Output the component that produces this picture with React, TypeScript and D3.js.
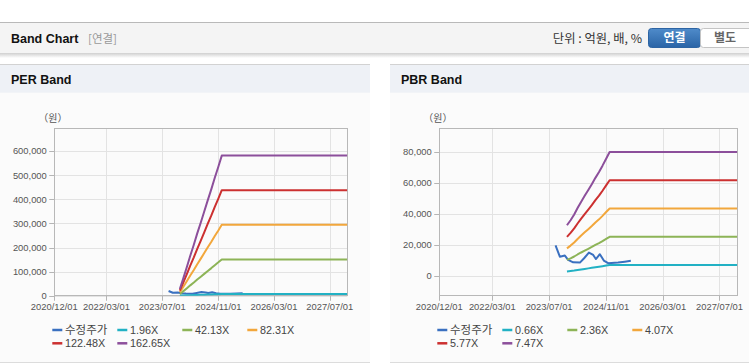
import React from "react";
import * as d3 from "d3";

// categories / labels
const xTickLabels = ["2020/12/01", "2022/03/01", "2023/07/01", "2024/11/01", "2026/03/01", "2027/07/01"];
const bandDates = [
  "2023-12-01", "2024-01-01", "2024-02-01", "2024-03-01", "2024-04-01", "2024-05-01", "2024-06-01",
  "2024-07-01", "2024-08-01", "2024-09-01", "2024-10-01", "2024-11-01", "2024-12-01", "2027-12-01",
];
const priceDates = [
  "2023-08-25", "2023-10-01", "2023-11-13", "2023-12-11", "2024-01-23", "2024-03-21", "2024-04-26", "2024-06-06",
  "2024-07-13", "2024-08-05", "2024-09-08", "2024-10-12", "2024-11-18", "2025-02-12", "2025-04-10", "2025-06-01",
];

// 수정주가 (same in both charts)
const priceValues = [19700, 12400, 13100, 10300, 8800, 8600, 11400, 15000, 13500, 10900, 14000, 9900, 8200, 8600, 9200, 9800];

// PER band
const perLabels = ["1.96X", "42.13X", "82.31X", "122.48X", "162.65X"];
const per196 = [330, 880, 1450, 2000, 2550, 3120, 3670, 4210, 4780, 5330, 5900, 6450, 7010, 7010];
const per4213 = [7160, 18960, 31180, 42970, 54770, 66990, 78780, 90580, 102800, 114600, 126800, 138600, 150650, 150650];
const per8231 = [13990, 37040, 60910, 83960, 107000, 130870, 153920, 176970, 200840, 223880, 247750, 270800, 294340, 294340];
const per12248 = [20820, 55120, 90640, 124930, 159220, 194740, 229040, 263330, 298850, 333150, 368660, 402960, 438000, 438000];
const per16265 = [27650, 73190, 120360, 165900, 211450, 258610, 304160, 349700, 396870, 442410, 489580, 535120, 581640, 581640];
const perTicks = [0, 100000, 200000, 300000, 400000, 500000, 600000];

// PBR band
const pbrLabels = ["0.66X", "2.36X", "4.07X", "5.77X", "7.47X"];
const pbr066 = [2880, 3170, 3500, 3860, 4220, 4550, 4880, 5210, 5580, 5910, 6270, 6670, 7040, 7040];
const pbr236 = [10300, 11330, 12510, 13810, 15100, 16280, 17460, 18640, 19940, 21120, 22420, 23840, 25180, 25180];
const pbr407 = [17760, 19540, 21570, 23810, 26050, 28080, 30120, 32150, 34390, 36430, 38670, 41110, 43430, 43430];
const pbr577 = [25180, 27700, 30580, 33750, 36930, 39810, 42700, 45580, 48760, 51640, 54820, 58280, 61570, 61570];
const pbr747 = [32600, 35860, 39590, 43700, 47810, 51540, 55280, 59010, 63120, 66860, 70970, 75450, 79700, 79700];
const pbrTicks = [0, 20000, 40000, 60000, 80000];

const colors = ["#3a70c0", "#22b1c4", "#8db457", "#f2a73c", "#cc3030", "#8c4f9b"];
const parse = d3.timeParse("%Y-%m-%d");
const parseTick = d3.timeParse("%Y/%m/%d");
const latin = "'Liberation Sans', Arial, sans-serif";
const kr = "'Noto Sans CJK KR', sans-serif";

type PanelProps = {
  id: string;
  px0: number;
  px1: number;
  title: string;
  plotX0: number;
  plotX1: number;
  yDomain: [number, number];
  yTicks: number[];
  bands: number[][];
  labels: string[];
};

const Panel = (props: PanelProps) => {
  const top = 128.3;
  const bottom = 295.7;
  const x = d3.scaleTime()
    .domain([parse("2020-12-01")!, parse("2027-12-01")!])
    .range([props.plotX0, props.plotX1]);
  const y = d3.scaleLinear().domain(props.yDomain).range([bottom, top]);
  const fmt = d3.format(",");
  const line = d3.line<[Date, number]>()
    .x(d => x(d[0]))
    .y(d => y(d[1]));

  const pricePts: [Date, number][] = priceDates.map((d, i) => [parse(d)!, priceValues[i]]);
  const bandPts = props.bands.map(b => b.map((v, i) => [parse(bandDates[i])!, v] as [Date, number]));
  const legendItems = ["수정주가", ...props.labels];

  return (
    <g>
      <rect x={props.px0} y={64} width={props.px1 - props.px0} height={298} fill="#fbfbfb" />
      <rect x={props.px0} y={64} width={props.px1 - props.px0} height={28.7} fill="#eef1f6" />
      <line x1={props.px0} x2={props.px1} y1={64.5} y2={64.5} stroke="#d2d2d2" />
      <line x1={props.px0} x2={props.px1} y1={362.5} y2={362.5} stroke="#dcdcdc" />
      <text x={props.px0 + 11} y={84} fontFamily={latin} fontWeight="bold" fontSize={12.5} fill="#111">{props.title}</text>

      <clipPath id={props.id}>
        <rect x={props.plotX0} y={top} width={props.plotX1 - props.plotX0} height={bottom - top} />
      </clipPath>
      {/* grid */}
      {xTickLabels.map(t => {
        const xx = Math.round(x(parseTick(t)!)) + 0.5;
        return <line key={t} x1={xx} x2={xx} y1={top} y2={bottom + 5} stroke="#e3e3e3" />;
      })}
      {props.yTicks.map(t => {
        const yy = Math.round(y(t)) + 0.5;
        return <line key={t} x1={props.plotX0 - 5} x2={props.plotX1} y1={yy} y2={yy} stroke="#e3e3e3" />;
      })}
      {xTickLabels.map(t => {
        const xx = Math.round(x(parseTick(t)!)) + 0.5;
        return <line key={"k" + t} x1={xx} x2={xx} y1={bottom} y2={bottom + 5} stroke="#b5b5b5" />;
      })}
      {props.yTicks.map(t => {
        const yy = Math.round(y(t)) + 0.5;
        return <line key={"k" + t} x1={props.plotX0 - 5} x2={props.plotX0} y1={yy} y2={yy} stroke="#b5b5b5" />;
      })}
      <rect x={Math.round(props.plotX0) + 0.5} y={Math.round(top) + 0.5} width={Math.round(props.plotX1 - props.plotX0)} height={Math.round(bottom - top)}
        fill="none" stroke="#b8b8b8" />

      {/* labels */}
      {xTickLabels.map(t => (
        <text key={"l" + t} x={x(parseTick(t)!)} y={310} textAnchor="middle" fontFamily={latin} fontSize={9.4} fill="#555">{t}</text>
      ))}
      {props.yTicks.map(t => (
        <text key={"l" + t} x={props.plotX0 - 7.5} y={y(t) + 3.3} textAnchor="end" fontFamily={latin} fontSize={9.4} fill="#555">{fmt(t)}</text>
      ))}
      <text x={props.plotX0 - 16} y={121.5} fontFamily={kr} fontSize={10} fill="#555">（원）</text>

      {/* series */}
      <g clipPath={`url(#${props.id})`} fill="none" strokeWidth={2} strokeLinejoin="round">
        <path d={line(pricePts)!} stroke={colors[0]} />
        {bandPts.map((pts, i) => (
          <path key={i} d={line(pts)!} stroke={colors[i + 1]} />
        ))}
      </g>

      {/* legend */}
      {legendItems.map((lab, i) => {
        const col = i % 4;
        const row = Math.floor(i / 4);
        const lx = props.plotX0 - 2 + col * 65;
        const ly = 330 + row * 13.3;
        return (
          <g key={lab}>
            <line x1={lx} x2={lx + 10} y1={ly} y2={ly} stroke={colors[i]} strokeWidth={2.5} />
            <text x={lx + 12.7} y={ly + 4} fontFamily={i === 0 ? kr : latin} fontSize={i === 0 ? 11.5 : 10.8} fill="#444">{lab}</text>
          </g>
        );
      })}
    </g>
  );
};

const App = () => {
  return (
    <svg width={749} height={364} style={{ position: "absolute", left: 0, top: 0, background: "#fff" }}>
      <defs>
        <linearGradient id="shadow" x1="0" y1="0" x2="0" y2="1">
          <stop offset="0" stopColor="#cfcfcf" />
          <stop offset="1" stopColor="#ffffff" />
        </linearGradient>
        <linearGradient id="btn" x1="0" y1="0" x2="0" y2="1">
          <stop offset="0" stopColor="#4f8bca" />
          <stop offset="1" stopColor="#2a64a6" />
        </linearGradient>
      </defs>
      <rect x={0} y={0} width={749} height={364} fill="#fff" />
      {/* header bar */}
      <rect x={0} y={22} width={749} height={31} fill="#f4f4f4" />
      <line x1={0} x2={749} y1={22.5} y2={22.5} stroke="#b9b9b9" />
      <rect x={0} y={53} width={749} height={5} fill="url(#shadow)" />
      <text x={11} y={43} fontFamily={latin} fontWeight="bold" fontSize={12.5} fill="#111">Band Chart</text>
      <text x={88} y={43} fontFamily={kr} fontSize={11.5} fill="#999">[연결]</text>
      <text x={642} y={42.5} textAnchor="end" fontFamily={kr} fontSize={12.3} fill="#333">단위 : 억원, 배, %</text>
      <rect x={648.5} y={28.5} width={52} height={19} rx={3} fill="url(#btn)" stroke="#2d64a3" />
      <rect x={700.5} y={28.5} width={52} height={19} rx={3} fill="#fff" stroke="#c4c4c4" />
      <text x={674.5} y={42.3} textAnchor="middle" fontFamily={kr} fontWeight="bold" fontSize={12} fill="#fff">연결</text>
      <text x={725} y={42.3} textAnchor="middle" fontFamily={kr} fontWeight="bold" fontSize={12} fill="#666">별도</text>

      <Panel id="perClip" px0={0} px1={370} title="PER Band" plotX0={54.3} plotX1={347.3}
        yDomain={[0, 695000]} yTicks={perTicks}
        bands={[per196, per4213, per8231, per12248, per16265]} labels={perLabels} />
      <Panel id="pbrClip" px0={390} px1={749} title="PBR Band" plotX0={439.3} plotX1={737.3}
        yDomain={[-12700, 95000]} yTicks={pbrTicks}
        bands={[pbr066, pbr236, pbr407, pbr577, pbr747]} labels={pbrLabels} />
    </svg>
  );
};

export default App;
